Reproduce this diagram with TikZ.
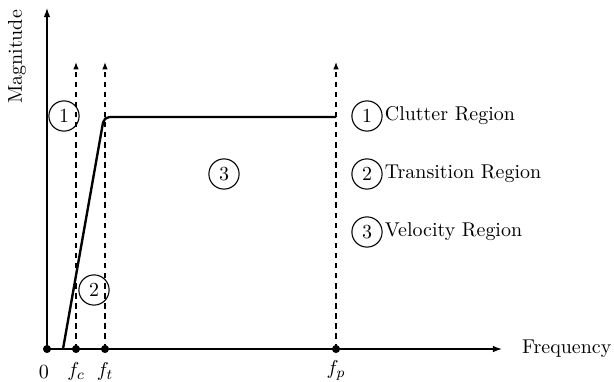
\documentclass[tikz,border=0pt]{standalone}
\usetikzlibrary{arrows.meta}
\begin{document}
\begin{tikzpicture}[x=0.546pt,y=-0.546pt,
  every node/.style={font=\fontsize{10.9}{13}\selectfont},
  axis/.style={line width=0.7pt,-{Latex[length=5pt,width=3.6pt]}},
  guide/.style={dashed,line width=0.6pt,dash pattern=on 3pt off 2.5pt,-{Latex[length=4pt,width=3pt]}},
  resp/.style={line width=1.3pt,rounded corners=3pt},
  dot/.style={circle,fill=black,inner sep=0pt,minimum size=4.4pt},
  num/.style={circle,draw,line width=0.6pt,minimum size=16.5pt,inner sep=0pt},
  lbl/.style={inner sep=1pt}]
\useasboundingbox (0,0) rectangle (614,381);
% coordinates
\coordinate (O) at (47,349);
\coordinate (ytop) at (47,8);
\coordinate (xend) at (502,349);
\coordinate (fc) at (76,349);
\coordinate (ft) at (105,349);
\coordinate (fp) at (336,349);
\coordinate (fctop) at (76,62);
\coordinate (fttop) at (105,62);
\coordinate (fptop) at (336,62);
\coordinate (s0) at (63,349);
\coordinate (s1) at (104,117);
\coordinate (s2) at (336,117);
% axes
\draw[axis] (O) -- (ytop);
\draw[axis] (O) -- (xend);
% dashed guides
\draw[guide] (fc) -- (fctop);
\draw[guide] (ft) -- (fttop);
\draw[guide] (fp) -- (fptop);
% response
\draw[resp] (s0) -- (s1) -- (s2);
% dots
\node[dot] (d0) at (O) {};
\node[dot] (dc) at (fc) {};
\node[dot] (dt) at (ft) {};
\node[dot] (dp) at (fp) {};
% tick labels
\node[lbl] (l0) at (44,372) {$0$};
\node[lbl] (lc) at (76,371) {$f_c$};
\node[lbl] (lt) at (105,371) {$f_t$};
\node[lbl] (lp) at (336,370) {$f_p$};
\node[lbl,anchor=west] (freq) at (520,349) {Frequency};
\node[lbl,rotate=90] (mag) at (17,57) {Magnitude};
% region markers
\node[num] (c1) at (64,116) {1};
\node[num] (c2) at (94,290) {2};
\node[num] (c3) at (224,174) {3};
% legend
\node[num] (k1) at (367,116) {1};
\node[num] (k2) at (367,174) {2};
\node[num] (k3) at (367,232) {3};
\node[lbl,anchor=west] (t1) at (k1.east) {Clutter Region};
\node[lbl,anchor=west] (t2) at (k2.east) {Transition Region};
\node[lbl,anchor=west] (t3) at (k3.east) {Velocity Region};
\end{tikzpicture}
\end{document}
